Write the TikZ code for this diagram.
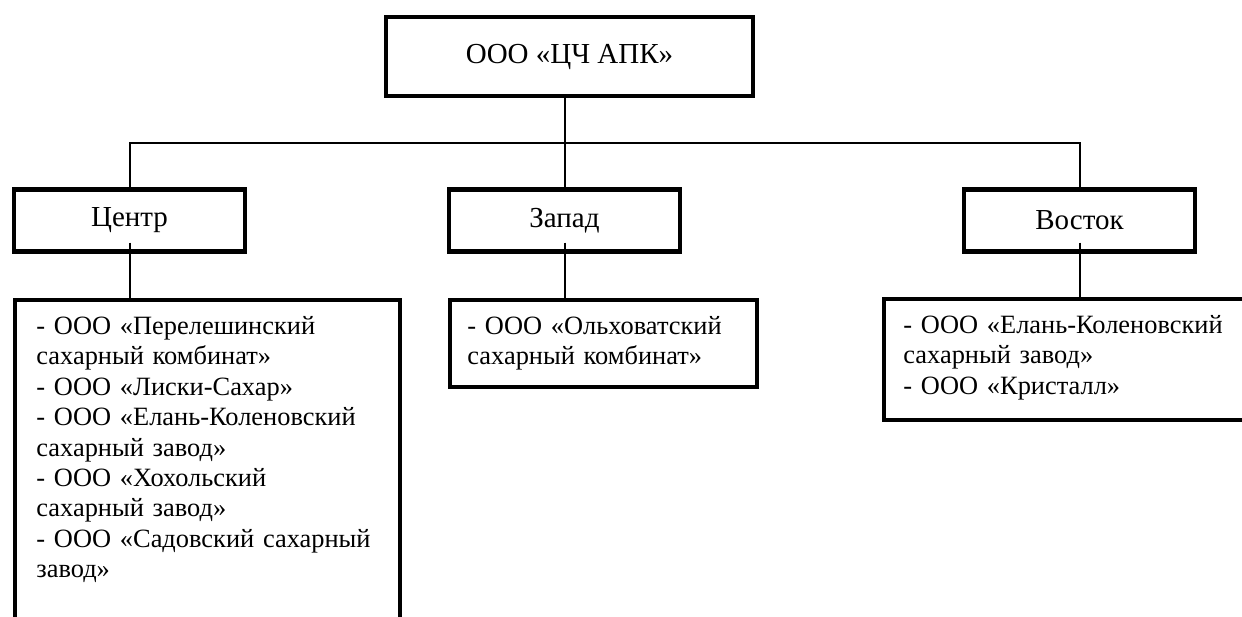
\documentclass[tikz,border=0pt]{standalone}
\usepackage{fontspec}
\setmainfont{Liberation Serif}
\begin{document}
\begin{tikzpicture}[x=0.5pt,y=-0.5pt,
  box/.style={draw, line width=2.2pt, inner sep=0pt, font=\fontsize{14.5}{16}\selectfont},
  midbox/.style={box, minimum width=115.5pt, minimum height=31pt},
  listtext/.style={inner sep=0pt, anchor=north west, text width=200pt, align=left, font=\fontsize{13.2}{15.2}\selectfont},
  conn/.style={line width=1pt}]
\clip (0,0) rectangle (1242,616);
\useasboundingbox (0,0) rectangle (1242,616);
% top
\node[box, minimum width=183.5pt, minimum height=39.5pt] (top) at (569.5,56.5) {ООО «ЦЧ АПК»};
% middle
\node[midbox] (centr) at (129.5,220.5) {Центр};
\node[midbox] (zapad) at (564.5,220.5) {Запад};
\node[midbox] (vostok) at (1079.5,220.5) {Восток};
% lists
\node[box, minimum width=192.5pt, minimum height=180pt, anchor=north west] (centrlist) at (13,298) {};
\node[box, minimum width=153.5pt, minimum height=43.5pt, anchor=north west] (zapadlist) at (448,298) {};
\node[box, minimum width=190pt, minimum height=60.5pt, anchor=north west] (vostoklist) at (882,297) {};
\node[listtext] (centrtext) at (36,316) {- ООО «Перелешинский\\сахарный комбинат»\\- ООО «Лиски-Сахар»\\- ООО «Елань-Коленовский\\сахарный завод»\\- ООО «Хохольский\\сахарный завод»\\- ООО «Садовский сахарный\\завод»};
\node[listtext] (zapadtext) at (467,316) {- ООО «Ольховатский\\сахарный комбинат»};
\node[listtext] (vostoktext) at (903,315) {- ООО «Елань-Коленовский\\сахарный завод»\\- ООО «Кристалл»};
% connectors
\coordinate (bus) at (564.5,143);
\draw[conn] (top.south -| zapad.north) -- (zapad.north);
\draw[conn] (centr.north) -- (centr.north |- bus) -- (vostok.north |- bus) -- (vostok.north);
\draw[conn] ([yshift=-11pt]centr.center) -- (centr.center |- centrlist.north);
\draw[conn] ([yshift=-11pt]zapad.center) -- (zapad.center |- zapadlist.north);
\draw[conn] ([yshift=-11pt]vostok.center) -- (vostok.center |- vostoklist.north);
\end{tikzpicture}
\end{document}
